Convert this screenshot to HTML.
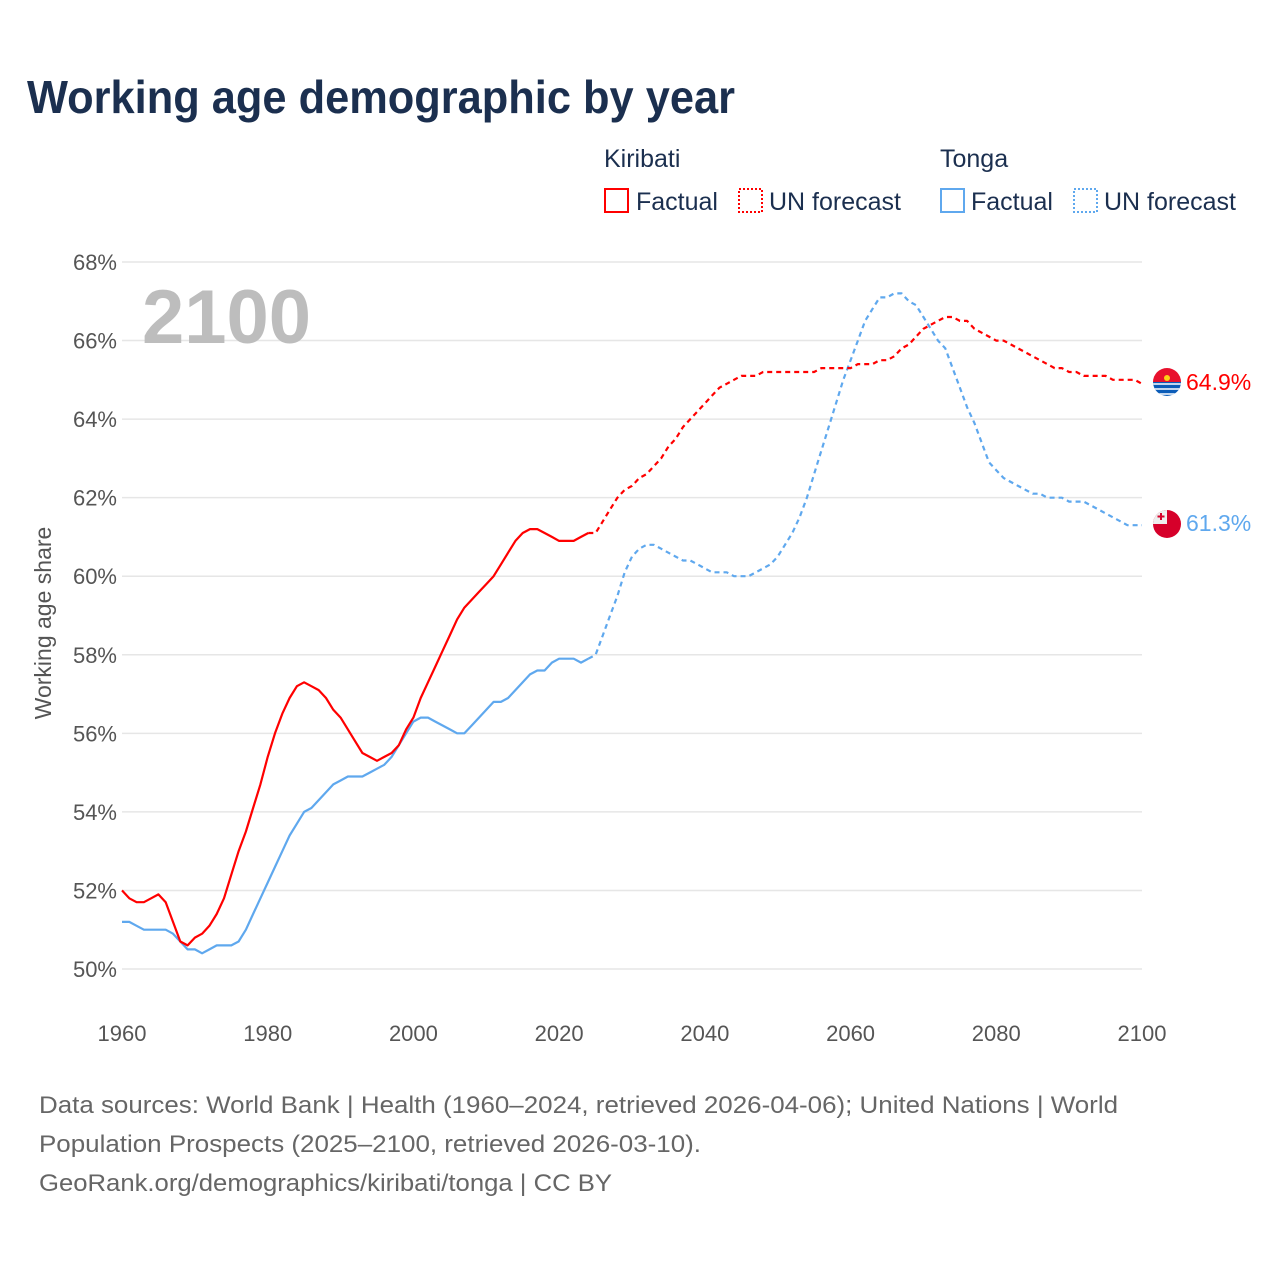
<!DOCTYPE html>
<html><head><meta charset="utf-8">
<style>
body{margin:0;background:#fff;font-family:"Liberation Sans",sans-serif;}
svg text{font-family:"Liberation Sans",sans-serif;}
</style></head>
<body>
<svg id="chart" width="1280" height="1280" viewBox="0 0 1280 1280" xmlns="http://www.w3.org/2000/svg">
<rect width="1280" height="1280" fill="#fff"/>
<text x="27" y="113" font-size="46" font-weight="bold" fill="#1b2f4f" textLength="708" lengthAdjust="spacingAndGlyphs">Working age demographic by year</text>
<g font-size="25" fill="#1b2f4f">
<text x="604" y="167">Kiribati</text>
<text x="940" y="167">Tonga</text>
<g><rect x="605" y="189" width="23" height="23" fill="none" stroke="#ff0000" stroke-width="2"/><text x="636" y="210">Factual</text></g>
<g><rect x="739" y="189" width="23" height="23" fill="none" stroke="#ff0000" stroke-width="2" stroke-dasharray="2,2"/><text x="769" y="210">UN forecast</text></g>
<g><rect x="941" y="189" width="23" height="23" fill="none" stroke="#5fa8ee" stroke-width="2"/><text x="971" y="210">Factual</text></g>
<g><rect x="1074" y="189" width="23" height="23" fill="none" stroke="#5fa8ee" stroke-width="2" stroke-dasharray="2,2"/><text x="1104" y="210">UN forecast</text></g>
</g>
<g id="grid"></g>
<g id="yticks" font-size="22" fill="#555" text-anchor="end"></g>
<g id="xticks" font-size="22" fill="#555" text-anchor="middle"></g>
<text x="142" y="343" font-size="76" font-weight="bold" fill="#bdbdbd">2100</text>
<text transform="translate(51,623) rotate(-90)" font-size="23" fill="#555" text-anchor="middle">Working age share</text>
<g id="series"></g>
<g>
<clipPath id="ck"><circle cx="1167" cy="382" r="14"/></clipPath>
<g clip-path="url(#ck)"><rect x="1150" y="366" width="34" height="16" fill="#e8112d"/><rect x="1150" y="382" width="34" height="16" fill="#0b5cb8"/><path d="M1153 384h28M1153 389h28M1153 394h28" stroke="#fff" stroke-width="1.5"/><circle cx="1167" cy="378" r="3" fill="#fcd116"/></g>
<text x="1186" y="390" font-size="23" fill="#ff0000">64.9%</text>
</g>
<g>
<clipPath id="ct"><circle cx="1167" cy="524" r="14"/></clipPath>
<g clip-path="url(#ct)"><rect x="1150" y="508" width="34" height="32" fill="#d6002a"/><rect x="1150" y="508" width="17" height="16" fill="#eee"/><path d="M1161 513v7M1157.5 516.5h7" stroke="#d6002a" stroke-width="2"/></g>
<text x="1186" y="531" font-size="23" fill="#5fa8ee">61.3%</text>
</g>
<g font-size="24" fill="#666">
<text x="39" y="1113" textLength="1079" lengthAdjust="spacingAndGlyphs">Data sources: World Bank | Health (1960–2024, retrieved 2026-04-06); United Nations | World</text>
<text x="39" y="1152" textLength="662" lengthAdjust="spacingAndGlyphs">Population Prospects (2025–2100, retrieved 2026-03-10).</text>
<text x="39" y="1191" textLength="573" lengthAdjust="spacingAndGlyphs">GeoRank.org/demographics/kiribati/tonga | CC BY</text>
</g>
</svg>
<script>
const yTicks=[50,52,54,56,58,60,62,64,66,68];
const xTicks=[1960,1980,2000,2020,2040,2060,2080,2100];
const kiribatiFactual=[52.0,51.8,51.7,51.7,51.8,51.9,51.7,51.2,50.7,50.6,50.8,50.9,51.1,51.4,51.8,52.4,53.0,53.5,54.1,54.7,55.4,56.0,56.5,56.9,57.2,57.3,57.2,57.1,56.9,56.6,56.4,56.1,55.8,55.5,55.4,55.3,55.4,55.5,55.7,56.1,56.4,56.9,57.3,57.7,58.1,58.5,58.9,59.2,59.4,59.6,59.8,60.0,60.3,60.6,60.9,61.1,61.2,61.2,61.1,61.0,60.9,60.9,60.9,61.0,61.1];
const kiribatiForecast=[61.1,61.4,61.7,62.0,62.2,62.3,62.5,62.6,62.8,63.0,63.3,63.5,63.8,64.0,64.2,64.4,64.6,64.8,64.9,65.0,65.1,65.1,65.1,65.2,65.2,65.2,65.2,65.2,65.2,65.2,65.2,65.3,65.3,65.3,65.3,65.3,65.4,65.4,65.4,65.5,65.5,65.6,65.8,65.9,66.1,66.3,66.4,66.5,66.6,66.6,66.5,66.5,66.3,66.2,66.1,66.0,66.0,65.9,65.8,65.7,65.6,65.5,65.4,65.3,65.3,65.2,65.2,65.1,65.1,65.1,65.1,65.0,65.0,65.0,65.0,64.9];
const tongaFactual=[51.2,51.2,51.1,51.0,51.0,51.0,51.0,50.9,50.7,50.5,50.5,50.4,50.5,50.6,50.6,50.6,50.7,51.0,51.4,51.8,52.2,52.6,53.0,53.4,53.7,54.0,54.1,54.3,54.5,54.7,54.8,54.9,54.9,54.9,55.0,55.1,55.2,55.4,55.7,56.0,56.3,56.4,56.4,56.3,56.2,56.1,56.0,56.0,56.2,56.4,56.6,56.8,56.8,56.9,57.1,57.3,57.5,57.6,57.6,57.8,57.9,57.9,57.9,57.8,57.9];
const tongaForecast=[58.0,58.5,59.0,59.5,60.1,60.5,60.7,60.8,60.8,60.7,60.6,60.5,60.4,60.4,60.3,60.2,60.1,60.1,60.1,60.0,60.0,60.0,60.1,60.2,60.3,60.5,60.8,61.1,61.5,62.0,62.6,63.2,63.8,64.4,65.0,65.5,66.0,66.5,66.8,67.1,67.1,67.2,67.2,67.0,66.9,66.6,66.3,66.0,65.8,65.3,64.8,64.3,63.9,63.4,62.9,62.7,62.5,62.4,62.3,62.2,62.1,62.1,62.0,62.0,62.0,61.9,61.9,61.9,61.8,61.7,61.6,61.5,61.4,61.3,61.3,61.3];
const factualStart=1960, forecastStart=2025;
const X=yr=>122+(yr-1960)*(1020/140);
const Y=v=>969-(v-50)*(707/18);
const NS='http://www.w3.org/2000/svg';
const grid=document.getElementById('grid'),yt=document.getElementById('yticks'),xt=document.getElementById('xticks'),ser=document.getElementById('series');
yTicks.forEach(t=>{
 const l=document.createElementNS(NS,'line');
 
 
 l.setAttribute('x1',122);l.setAttribute('x2',1142);l.setAttribute('y1',Y(t));l.setAttribute('y2',Y(t));
 l.setAttribute('stroke','#e6e6e6');l.setAttribute('stroke-width','1.5');grid.appendChild(l);
 const tx=document.createElementNS(NS,'text');
 
 
 tx.setAttribute('x',117);tx.setAttribute('y',Y(t)+8);tx.textContent=t+'%';yt.appendChild(tx);
});
xTicks.forEach(t=>{
 const tx=document.createElementNS(NS,'text');
 
 
 tx.setAttribute('x',X(t));tx.setAttribute('y',1041);tx.textContent=t;xt.appendChild(tx);
});
function line(pts,color,dash,name){
 const p=document.createElementNS(NS,'path');
 
 
 p.setAttribute('d',pts.map((q,i)=>(i?'L':'M')+X(q[0]).toFixed(1)+' '+Y(q[1]).toFixed(1)).join(''));
 p.setAttribute('fill','none');p.setAttribute('stroke',color);p.setAttribute('stroke-width','2.2');
 p.setAttribute('stroke-linejoin','round');
 if(dash)p.setAttribute('stroke-dasharray','5,4');
 ser.appendChild(p);
}
function draw(fact,fc,color,nm){
 const fp=fact.map((v,i)=>[factualStart+i,v]);
 const cp=[fp[fp.length-1]].concat(fc.map((v,i)=>[forecastStart+i,v]));
 line(fp,color,false,nm+'-factual-line');
 line(cp,color,true,nm+'-forecast-line');
}
draw(tongaFactual,tongaForecast,'#5fa8ee','tonga');
draw(kiribatiFactual,kiribatiForecast,'#ff0000','kiribati');
</script>
</body></html>
